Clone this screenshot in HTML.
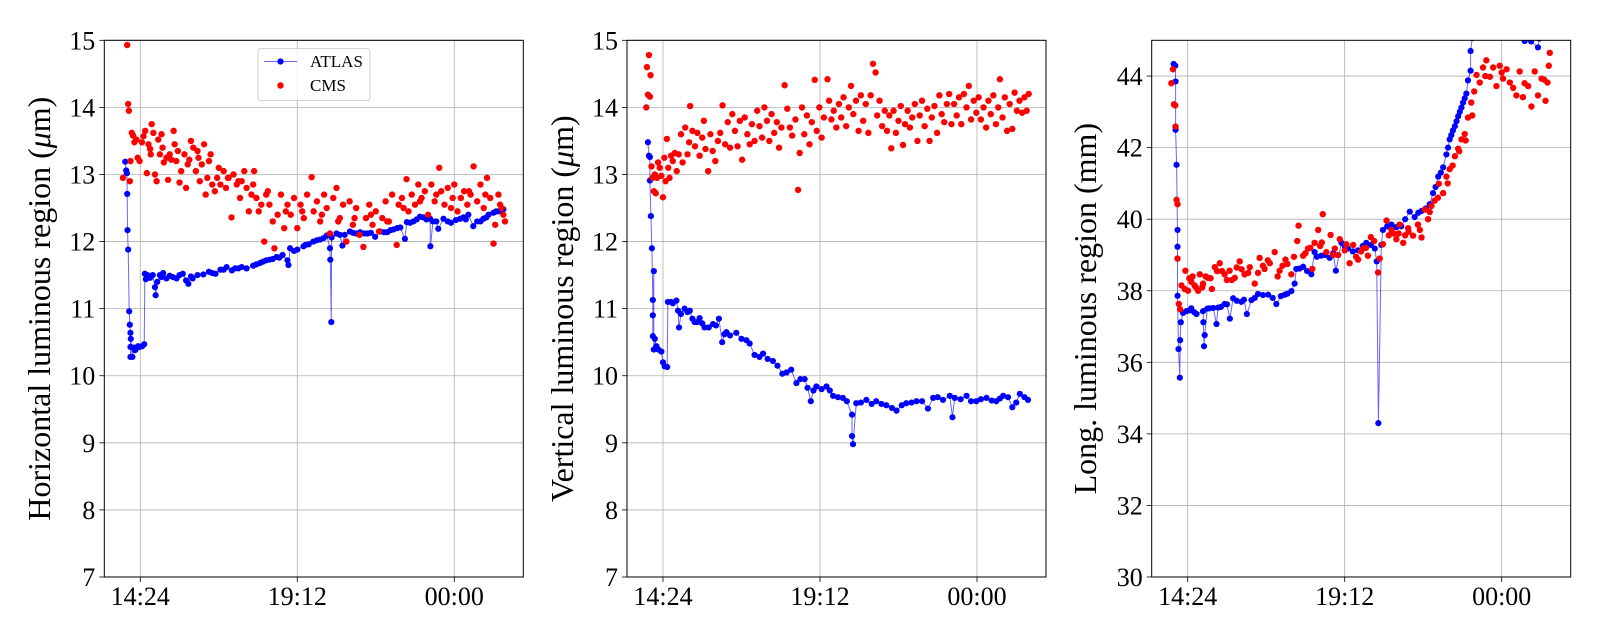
<!DOCTYPE html>
<html><head><meta charset="utf-8"><style>
html,body{margin:0;padding:0;background:#fff;}
svg{display:block;font-family:"Liberation Serif","DejaVu Serif",serif;}
</style></head><body>
<svg id="chart" width="1600" height="640" viewBox="0 0 1600 640" xmlns="http://www.w3.org/2000/svg"></svg>
<script>
// time in hours relative to 14:24
const tickLabels = ["14:24","19:12","00:00"];
const tickHours = [0, 4.8, 9.6];

const atlasT1 = [-0.46,-0.43,-0.41,-0.40,-0.39,-0.37,-0.34,-0.32,-0.30,-0.29,-0.30,-0.30,-0.24,-0.20,-0.16,-0.13,-0.07,-0.03,0.06,0.12,0.14,0.17,0.22,0.30,0.38,0.45,0.47,0.52,0.60,0.70,0.80,0.90,1.00,1.11,1.20,1.30,1.40,1.47,1.60,1.75,1.93,2.10,2.30,2.45,2.64,2.80,3.00,3.25,3.45,3.66,3.85,4.05,4.17,4.35,4.50,4.53,4.58,4.80,4.99,5.15,5.29,5.50,5.70,5.80,5.81,5.84,5.85,6.00,6.18,6.25,6.41,6.60,6.72,6.95,7.18,7.33,7.55,7.74,7.95,8.09,8.15,8.35,8.55,8.75,8.86,8.87,8.95,9.11,9.27,9.50,9.78,9.95,10.03,10.18,10.30,10.49,10.65,10.80,10.95,11.10,
  0.65,1.55,2.20,2.55,2.90,3.10,3.55,3.75,3.95,4.25,4.70,5.05,5.40,5.60,6.10,6.50,6.85,7.05,7.45,7.65,7.85,8.25,8.45,8.65,9.05,9.40,9.65,9.88,10.40,10.58,10.88,11.02];
const atlasV1 = [13.19,13.06,13.02,12.71,12.17,11.88,10.96,10.76,10.64,10.55,10.43,10.28,10.28,10.42,10.38,10.40,10.44,10.43,10.44,10.47,11.52,11.44,11.50,11.46,11.50,11.32,11.20,11.40,11.50,11.53,11.45,11.49,11.47,11.45,11.50,11.52,11.42,11.37,11.45,11.50,11.51,11.55,11.52,11.58,11.62,11.57,11.60,11.60,11.64,11.68,11.72,11.74,11.77,11.80,11.72,11.65,11.90,11.88,11.93,11.96,12.00,12.03,12.09,11.90,11.73,10.80,12.06,12.12,11.94,12.10,12.15,12.12,12.14,12.12,12.07,12.15,12.14,12.18,12.21,12.04,12.29,12.30,12.37,12.33,12.34,11.93,12.30,12.19,12.34,12.28,12.34,12.33,12.40,12.23,12.30,12.34,12.40,12.43,12.45,12.48,
  11.47,11.48,11.53,11.58,11.60,11.62,11.66,11.70,11.73,11.76,11.86,11.95,12.02,12.05,12.10,12.13,12.12,12.13,12.14,12.17,12.20,12.28,12.33,12.36,12.30,12.30,12.32,12.36,12.30,12.36,12.45,12.46];
const cmsT1 = [-0.53,-0.40,-0.37,-0.35,-0.32,-0.30,-0.26,-0.22,-0.18,-0.12,-0.08,-0.02,0.05,0.10,0.15,0.20,0.25,0.30,0.35,0.40,0.45,0.50,0.55,0.60,0.65,0.72,0.80,0.85,0.90,0.95,1.02,1.10,1.15,1.20,1.25,1.35,1.40,1.50,1.55,1.62,1.70,1.75,1.82,1.88,1.95,2.00,2.10,2.15,2.20,2.28,2.35,2.45,2.55,2.62,2.70,2.79,2.85,2.95,3.05,3.10,3.18,3.25,3.32,3.40,3.48,3.55,3.62,3.70,3.79,3.85,3.95,4.05,4.10,4.20,4.30,4.40,4.50,4.60,4.70,4.80,4.90,5.00,5.10,5.24,5.30,5.40,5.50,5.62,5.70,5.80,5.90,6.00,6.10,6.20,6.30,6.40,6.50,6.60,6.70,6.82,6.90,7.00,7.10,7.20,7.30,7.40,7.50,7.60,7.70,7.84,7.90,8.00,8.14,8.20,8.30,8.40,8.50,8.60,8.70,8.80,8.90,9.00,9.14,9.20,9.30,9.40,9.50,9.60,9.70,9.80,9.90,10.00,10.10,10.19,10.30,10.40,10.50,10.60,10.70,10.80,10.85,10.95,11.05,11.10,11.15,
  0.32,0.68,1.05,1.45,1.78,2.05,2.40,2.68,3.00,3.45,3.90,4.45,4.95,5.55,6.05,6.55,7.05,7.55,8.05,8.55,9.05,9.55,10.05,10.55,11.00];
const cmsV1 = [12.95,14.93,14.05,13.95,12.90,13.20,13.62,13.58,13.48,13.52,13.25,13.20,13.48,13.57,13.65,13.02,13.45,13.38,13.75,13.62,13.00,12.90,13.52,13.30,13.60,13.18,13.25,12.92,13.30,13.22,13.65,13.20,13.35,12.88,13.05,13.30,12.80,13.22,13.50,13.40,13.05,13.35,12.90,13.15,13.45,12.70,13.20,13.30,12.85,12.75,12.95,12.85,13.05,12.80,12.95,12.36,13.00,12.85,12.65,12.90,13.05,12.80,12.45,12.70,13.05,12.65,12.45,12.55,12.00,12.70,12.55,12.30,11.90,12.40,12.70,12.20,12.55,12.40,12.65,12.20,12.55,12.35,12.70,12.96,12.45,12.60,12.30,12.70,12.50,12.12,12.65,12.80,12.35,12.55,12.00,12.60,12.25,12.50,12.10,11.92,12.35,12.55,12.25,12.45,12.15,12.35,12.60,12.30,12.70,11.95,12.55,12.65,12.93,12.45,12.70,12.55,12.85,12.65,12.75,12.40,12.85,12.60,13.10,12.75,12.55,12.80,12.50,12.85,12.45,12.65,12.75,12.55,12.70,13.12,12.60,12.85,12.50,12.95,12.65,11.97,12.25,12.70,12.50,12.40,12.30,
  13.30,13.40,13.45,13.15,13.25,12.95,13.10,12.95,12.90,12.85,12.75,12.45,12.45,12.40,12.30,12.35,12.40,12.30,12.50,12.60,12.70,12.65,12.75,12.70,12.55];

const atlasT2 = [-0.46,-0.43,-0.40,-0.40,-0.37,-0.34,-0.28,-0.31,-0.31,-0.31,-0.25,-0.28,-0.20,-0.14,-0.05,0.00,0.05,0.13,0.15,0.25,0.41,0.46,0.49,0.66,0.82,0.97,1.12,1.27,1.53,1.71,1.81,1.94,2.24,2.55,2.80,3.06,3.36,3.65,3.92,4.08,4.33,4.52,4.69,5.00,5.20,5.50,5.78,5.78,5.81,5.91,6.22,6.52,6.83,7.14,7.44,7.75,8.10,8.26,8.56,8.77,8.85,8.92,9.28,9.58,9.89,10.19,10.40,10.68,10.91,11.16,
  0.30,0.55,0.75,0.90,1.05,1.20,1.40,1.62,1.88,2.05,2.40,2.65,2.95,3.20,3.50,3.78,4.20,4.42,4.60,4.85,5.10,5.35,5.62,6.05,6.38,6.68,7.00,7.30,7.60,7.92,8.40,9.10,9.42,9.72,10.05,10.30,10.55,10.80,11.05];
const atlasV2 = [13.48,13.28,13.26,12.91,12.38,11.90,11.56,11.13,10.90,10.59,10.55,10.39,10.44,10.39,10.36,10.20,10.14,10.13,11.10,11.10,11.12,10.97,10.72,11.00,10.97,10.80,10.86,10.72,10.77,10.85,10.50,10.65,10.64,10.53,10.31,10.33,10.22,10.03,10.09,9.89,9.95,9.62,9.84,9.84,9.70,9.67,9.42,9.10,8.98,9.59,9.64,9.62,9.56,9.48,9.59,9.62,9.51,9.67,9.64,9.70,9.38,9.67,9.70,9.62,9.67,9.62,9.70,9.53,9.73,9.64,
  11.08,10.92,10.95,10.85,10.80,10.78,10.72,10.75,10.62,10.60,10.55,10.48,10.28,10.25,10.15,10.05,9.95,9.82,9.78,9.80,9.78,9.68,9.62,9.60,9.58,9.58,9.52,9.56,9.60,9.62,9.68,9.65,9.62,9.65,9.63,9.66,9.68,9.60,9.68];
const cmsT2 = [-0.51,-0.49,-0.46,-0.43,-0.40,-0.38,-0.35,-0.32,-0.28,-0.25,-0.22,-0.18,-0.15,-0.10,-0.05,0.00,0.04,0.08,0.12,0.16,0.20,0.25,0.30,0.36,0.42,0.48,0.55,0.60,0.68,0.75,0.80,0.83,0.90,0.98,1.05,1.12,1.20,1.25,1.30,1.38,1.45,1.52,1.60,1.68,1.75,1.82,1.90,1.98,2.05,2.12,2.20,2.28,2.35,2.42,2.50,2.58,2.65,2.72,2.80,2.88,2.95,3.03,3.10,3.18,3.25,3.32,3.40,3.48,3.55,3.62,3.72,3.80,3.88,3.95,4.05,4.13,4.18,4.25,4.32,4.40,4.48,4.55,4.64,4.70,4.78,4.85,4.92,5.03,5.08,5.15,5.22,5.30,5.38,5.45,5.52,5.60,5.68,5.75,5.82,5.90,5.98,6.05,6.12,6.20,6.28,6.35,6.42,6.50,6.55,6.62,6.70,6.78,6.85,6.92,6.98,7.05,7.12,7.20,7.27,7.34,7.40,7.48,7.55,7.62,7.70,7.78,7.85,7.92,8.00,8.08,8.15,8.22,8.30,8.38,8.45,8.52,8.60,8.68,8.75,8.82,8.90,8.98,9.05,9.12,9.20,9.28,9.35,9.42,9.50,9.58,9.65,9.72,9.80,9.88,9.95,10.02,10.10,10.18,10.25,10.30,10.38,10.45,10.52,10.60,10.68,10.75,10.82,10.90,10.98,11.05,11.12,11.18];
const cmsV2 = [14.00,14.60,14.19,14.78,14.16,14.48,13.12,12.95,12.75,13.00,12.72,12.95,13.18,13.10,12.98,12.66,13.25,12.90,13.53,13.10,12.95,13.28,13.20,13.32,13.05,13.30,13.60,13.18,13.70,13.30,13.48,14.02,13.65,13.42,13.62,13.28,13.55,13.80,13.38,13.05,13.60,13.35,13.20,13.50,13.62,14.03,13.45,13.78,13.40,13.90,13.65,13.42,13.80,13.22,13.85,13.60,13.45,13.75,13.50,13.95,13.72,13.55,14.00,13.80,13.50,13.90,13.62,13.78,13.40,13.70,14.33,13.98,13.70,13.58,13.82,12.77,13.32,14.00,13.60,13.88,13.45,13.78,14.41,13.65,14.00,13.55,13.85,14.42,14.10,13.82,13.95,13.70,14.05,13.85,14.15,13.72,14.00,14.32,13.90,14.10,13.65,14.18,13.80,14.05,13.62,14.18,14.65,14.52,13.88,14.10,13.72,13.95,13.65,13.88,13.39,13.95,13.62,13.80,14.02,13.44,13.75,13.95,13.70,13.85,14.05,13.50,13.88,14.10,13.72,13.98,13.50,13.85,14.02,13.62,14.18,13.90,13.78,14.05,14.20,13.75,14.05,13.88,14.15,13.75,14.20,14.00,14.32,13.82,14.10,13.92,14.15,13.82,14.00,13.70,14.10,13.90,14.18,13.75,14.00,14.42,13.85,14.15,13.65,14.05,13.68,14.22,13.95,14.10,13.92,14.15,13.95,14.20];

const atlasT3 = [-0.43,-0.38,-0.37,-0.37,-0.34,-0.31,-0.31,-0.31,-0.28,-0.24,-0.23,-0.21,-0.14,-0.04,0.11,0.27,0.47,0.48,0.50,0.52,0.67,0.88,0.93,1.13,1.29,1.39,1.64,1.81,1.95,2.15,2.46,2.71,2.97,3.17,3.27,3.32,3.53,3.78,3.88,4.08,4.34,4.53,4.70,4.90,5.21,5.46,5.72,5.78,5.83,5.92,5.97,6.23,6.53,6.79,6.94,7.15,7.40,7.50,7.66,7.81,7.91,8.01,8.11,8.22,8.32,8.42,8.52,8.57,8.65,8.65,8.70,8.75,9.50,10.10,10.30,10.50,10.71,10.75,11.10,
  0.05,0.20,0.60,0.78,1.02,1.20,1.50,1.72,2.05,2.30,2.60,2.85,3.05,3.42,3.65,3.95,4.20,4.45,4.80,5.05,5.35,5.60,6.10,6.38,6.65,7.05,7.28,7.58,7.74,7.96,8.06,8.17,8.27,8.37,8.47];
const atlasV3 = [44.34,44.29,43.85,42.50,41.52,39.70,39.23,37.86,36.37,35.57,36.62,37.12,37.38,37.43,37.51,37.35,37.43,37.12,36.45,36.76,37.51,37.07,37.53,37.63,37.22,37.79,37.69,37.35,37.74,37.91,37.89,37.63,37.89,37.99,38.20,38.61,38.67,38.46,39.08,38.98,38.92,38.56,39.34,39.18,39.13,39.34,39.18,38.82,34.30,39.28,39.70,39.85,39.80,40.21,40.06,40.23,40.42,40.73,41.19,41.45,41.81,42.23,42.48,42.74,43.00,43.26,43.51,43.88,44.15,44.70,45.06,45.30,45.60,45.10,44.98,44.97,44.80,45.05,45.20,
  37.45,37.40,37.50,37.52,37.55,37.62,37.72,37.75,37.80,37.88,37.80,37.85,37.92,38.62,38.55,38.95,39.00,39.05,39.25,39.10,39.25,39.28,39.80,39.78,40.00,40.18,40.30,40.90,41.30,42.00,42.35,42.60,42.88,43.12,43.38];
const cmsT3 = [-0.50,-0.45,-0.42,-0.38,-0.37,-0.34,-0.31,-0.31,-0.27,-0.23,-0.19,-0.09,-0.07,0.01,0.11,0.21,0.32,0.37,0.47,0.62,0.74,0.83,0.98,1.13,1.28,1.44,1.59,1.74,1.90,2.05,2.20,2.35,2.51,2.66,2.81,2.99,3.17,3.35,3.39,3.53,3.68,3.81,3.88,3.99,4.13,4.24,4.37,4.50,4.65,4.80,4.95,5.06,5.21,5.36,5.51,5.70,5.82,5.87,5.97,6.08,6.23,6.38,6.48,6.59,6.74,6.89,7.04,7.15,7.25,7.35,7.45,7.55,7.68,7.81,7.91,8.01,8.17,8.27,8.37,8.47,8.57,8.67,8.76,8.83,8.93,9.03,9.13,9.24,9.34,9.44,9.54,9.64,9.75,9.85,9.95,10.05,10.15,10.25,10.41,10.51,10.61,10.71,10.82,10.94,11.00,11.04,11.07,0.05,0.25,0.55,0.90,1.20,1.50,1.85,2.30,2.75,3.05,3.60,4.05,4.45,4.85,5.30,5.60,6.30,6.65,
  0.15,0.45,0.70,1.05,1.35,1.65,2.15,2.45,2.90,3.25,3.75,4.10,4.60,5.15,5.45,6.15,6.45,6.75,7.10,7.40,7.65,7.95,8.10,8.30,8.50,8.70,9.10,9.60,10.30,10.90];
const cmsV3 = [43.80,44.19,43.21,43.18,42.59,40.54,40.42,38.90,37.63,37.48,38.15,38.05,38.56,38.00,38.25,38.15,38.00,38.46,38.20,38.36,38.05,38.66,38.77,38.46,38.56,38.36,38.82,38.46,38.66,38.20,38.92,38.61,38.77,39.08,38.56,38.87,38.46,39.39,39.82,38.98,39.18,38.61,39.34,39.70,40.14,39.08,39.56,39.18,39.44,39.13,38.77,39.28,38.87,39.18,38.98,39.39,38.51,38.90,39.30,39.96,39.70,39.44,39.85,39.34,39.75,39.54,39.85,39.49,40.27,40.00,40.37,40.52,40.99,40.73,41.19,41.40,41.76,41.97,42.23,42.38,42.84,43.26,43.57,44.03,43.82,44.24,44.44,43.98,44.24,43.72,44.29,43.93,44.19,43.82,43.67,43.46,44.13,43.41,43.72,43.15,44.13,43.46,43.93,43.31,43.82,44.29,44.65,38.35,38.10,38.40,38.55,38.30,38.65,38.50,38.70,38.40,38.75,39.05,39.25,39.00,39.30,39.10,39.50,39.60,39.55,
  38.40,38.10,38.35,38.55,38.30,38.60,38.50,38.85,38.70,38.95,39.20,39.35,39.00,38.95,39.20,39.55,39.60,39.65,39.70,40.20,40.60,41.00,41.50,41.90,42.20,42.90,44.00,44.10,43.80,43.90];

const yTicks12 = [7,8,9,10,11,12,13,14,15];
const yTicks3 = [30,32,34,36,38,40,42,44];

const NS = "http://www.w3.org/2000/svg";
const svg = document.getElementById("chart");
function mk(tag, attrs, parent) {
  const e = document.createElementNS(NS, tag);
  for (const k in attrs) e.setAttribute(k, attrs[k]);
  (parent || svg).appendChild(e);
  return e;
}
const T0 = -1.10, T1 = 11.71;

function panel(idx, left, ylo, yhi, yticks, ylabel, labelX, at, av, ct, cv) {
  const top = 40.3, bottom = 577, right = left + 419;
  const g = mk("g", {});
  
  
  const xs = t => left + (t - T0) / (T1 - T0) * (right - left);
  const ys = v => bottom - (v - ylo) / (yhi - ylo) * (bottom - top);
  yticks.forEach(v => {
    const l = mk("line", {x1: left, x2: right, y1: ys(v), y2: ys(v), stroke: "#b0b0b0", "stroke-width": 0.8}, g);
    
    
    mk("line", {x1: left - 5, x2: left, y1: ys(v), y2: ys(v), stroke: "#000", "stroke-width": 0.8}, g);
    const t = mk("text", {x: left - 9, y: ys(v) + 9, "text-anchor": "end", "font-size": 26}, g);
    t.textContent = v;
    
    
  });
  tickHours.forEach((h, i) => {
    const x = xs(h);
    const l = mk("line", {x1: x, x2: x, y1: top, y2: bottom, stroke: "#b0b0b0", "stroke-width": 0.8}, g);
    
    
    mk("line", {x1: x, x2: x, y1: bottom, y2: bottom + 5, stroke: "#000", "stroke-width": 0.8}, g);
    const t = mk("text", {x: x, y: bottom + 28, "text-anchor": "middle", "font-size": 26}, g);
    t.textContent = tickLabels[i];
    
    
  });
  const clipId = "clip" + idx;
  const cp = mk("clipPath", {id: clipId}, g);
  mk("rect", {x: left, y: top, width: right - left, height: bottom - top}, cp);
  const data = mk("g", {"clip-path": "url(#" + clipId + ")"}, g);
  const order = at.map((_, i) => i).sort((a, b) => at[a] - at[b] || a - b);
  let d = "";
  order.forEach((i, k) => { d += (k ? "L" : "M") + xs(at[i]).toFixed(1) + "," + ys(av[i]).toFixed(1); });
  const path = mk("path", {d: d, fill: "none", stroke: "#0000ff", "stroke-opacity": 0.6, "stroke-width": 1}, data);
  
  
  at.forEach((t, i) => {
    const c = mk("circle", {cx: xs(t), cy: ys(av[i]), r: 3.1, fill: "#0000ff"}, data);
    
    
  });
  ct.forEach((t, i) => {
    const c = mk("circle", {cx: xs(t), cy: ys(cv[i]), r: 3.2, fill: "#ff0000"}, data);
    
    
  });
  const frame = mk("rect", {x: left, y: top, width: right - left, height: bottom - top, fill: "none", stroke: "#000", "stroke-width": 1}, g);
  
  
  const cy = (top + bottom) / 2;
  const yl = mk("text", {x: labelX, y: cy, "text-anchor": "middle", "font-size": 32, transform: "rotate(-90 " + labelX + " " + cy + ")"}, g);
  yl.innerHTML = ylabel;
  
  
}

panel(1, 104.3, 7, 15, yTicks12, 'Horizontal luminous region (<tspan font-style="italic">μ</tspan>m)', 50, atlasT1, atlasV1, cmsT1, cmsV1);
panel(2, 627, 7, 15, yTicks12, 'Vertical luminous region (<tspan font-style="italic">μ</tspan>m)', 573, atlasT2, atlasV2, cmsT2, cmsV2);
panel(3, 1151.7, 30, 45, yTicks3, 'Long. luminous region (mm)', 1096, atlasT3, atlasV3, cmsT3, cmsV3);

const lg = mk("g", {});


mk("rect", {x: 258, y: 48.5, width: 112, height: 52, rx: 3, fill: "#fff", "fill-opacity": 0.8, stroke: "#d0d0d0", "stroke-width": 1}, lg);
mk("line", {x1: 264, x2: 297, y1: 61.5, y2: 61.5, stroke: "#0000ff", "stroke-opacity": 0.6, "stroke-width": 1}, lg);
mk("circle", {cx: 280.5, cy: 61.5, r: 3.1, fill: "#0000ff"}, lg);
const l1 = mk("text", {x: 310, y: 67, "font-size": 17}, lg);
l1.textContent = "ATLAS";


mk("circle", {cx: 280.5, cy: 85.5, r: 3.2, fill: "#ff0000"}, lg);
const l2 = mk("text", {x: 310, y: 91, "font-size": 17}, lg);
l2.textContent = "CMS";


</script>
</body></html>
